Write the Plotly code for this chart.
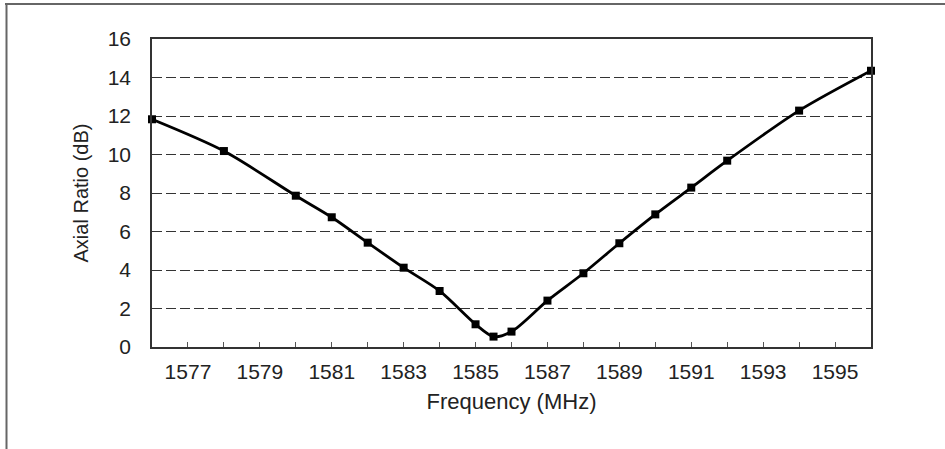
import plotly.graph_objects as go

# Data
frequency_mhz = [1576, 1578, 1580, 1581, 1582, 1583, 1584, 1585, 1585.5, 1586,
                 1587, 1588, 1589, 1590, 1591, 1592, 1594, 1596]
axial_ratio_db = [11.83, 10.18, 7.86, 6.74, 5.42, 4.12, 2.91, 1.18, 0.54, 0.80,
                  2.41, 3.83, 5.39, 6.89, 8.28, 9.68, 12.28, 14.35]
x_tick_values = [1577, 1579, 1581, 1583, 1585, 1587, 1589, 1591, 1593, 1595]
x_tick_labels = ["1577", "1579", "1581", "1583", "1585", "1587", "1589", "1591", "1593", "1595"]
y_tick_values = [0, 2, 4, 6, 8, 10, 12, 14, 16]

W, H = 945, 449
L, R, T, B = 152, 74, 39, 102
pw, ph = W - L - R, H - T - B

def px_x(x):
    return (x - L) / pw

def px_y(y):
    return (H - B - y) / ph

FONT = "Liberation Sans, Arial, sans-serif"

fig = go.Figure()
fig.add_trace(go.Scatter(
    x=frequency_mhz, y=axial_ratio_db,
    mode="lines+markers",
    line=dict(color="black", width=2.8, shape="spline", smoothing=0.8),
    marker=dict(symbol="square", size=8, color="black"),
    cliponaxis=False,
    showlegend=False,
))

fig.update_layout(
    width=W, height=H,
    margin=dict(l=L, r=R, t=T, b=B, pad=0),
    paper_bgcolor="white", plot_bgcolor="white",
    font=dict(family=FONT, color="#222", size=18),
    xaxis=dict(
        range=[1576, 1596],
        tickvals=x_tick_values, ticktext=x_tick_labels,
        ticks="inside", ticklen=5, tickcolor="#555", tickwidth=1,
        minor=dict(dtick=1, tick0=1576, ticks="inside", ticklen=5, tickcolor="#555", tickwidth=1, showgrid=False),
        showgrid=False, zeroline=False,
        showline=True, linecolor="#333", linewidth=1.5, mirror=True,
        tickfont=dict(size=21, family=FONT, color="#222"),
        ticklabelstandoff=5,
        title=dict(text="Frequency (MHz)", font=dict(size=22, family=FONT, color="#222"), standoff=12),
    ),
    yaxis=dict(
        range=[0, 16],
        tickvals=y_tick_values,
        ticks="", showgrid=True, gridcolor="#333", gridwidth=1, griddash="10px,4px",
        zeroline=False,
        showline=True, linecolor="#333", linewidth=1.5, mirror=True,
        tickfont=dict(size=21, family=FONT, color="#222"),
        ticklabelstandoff=15,
        title=dict(text="Axial Ratio (dB)", font=dict(size=20, family=FONT, color="#222"), standoff=14),
    ),
    shapes=[
        dict(type="line", xref="paper", yref="paper",
             x0=px_x(5), x1=px_x(945), y0=px_y(4), y1=px_y(4),
             line=dict(color="#666", width=2)),
        dict(type="line", xref="paper", yref="paper",
             x0=px_x(6.5), x1=px_x(6.5), y0=px_y(4), y1=px_y(449),
             line=dict(color="#666", width=2)),
    ],
)

fig.write_html("out.html", config={"displayModeBar": False},
               post_script="document.body.style.margin='0';")
